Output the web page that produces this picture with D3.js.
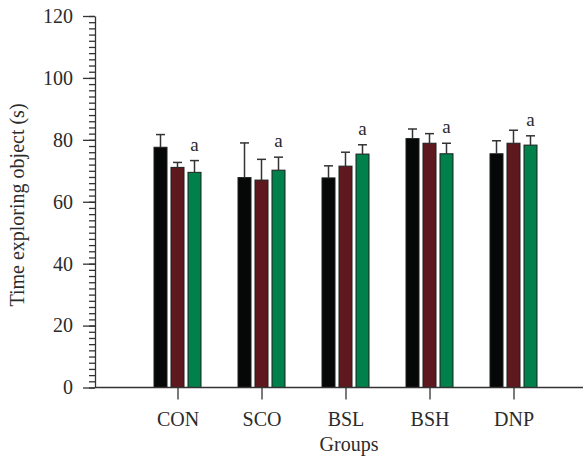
<!DOCTYPE html>
<html>
  <head>
    <meta charset="utf-8">
    <title>Time exploring object</title>
    <script src="https://d3js.org/d3.v7.min.js"></script>
    <style>
      body { margin: 0; background: #fff; }
      svg text { font-family: "Liberation Serif", "DejaVu Serif", serif; fill: #2b2b2b; }
    </style>
  </head>
  <body>
    <svg id="chart"></svg>
    <script>
      // data
      var groups = ["CON", "SCO", "BSL", "BSH", "DNP"];
      var series = ["s1", "s2", "s3"];
      var colors = ["#050807", "#5e191e", "#00814b"];
      var means = [
        [77.6, 71.1, 69.5],
        [67.8, 67.0, 70.2],
        [67.7, 71.5, 75.4],
        [80.4, 78.9, 75.5],
        [75.5, 78.9, 78.3]
      ];
      var errs = [
        [4.1, 1.6, 3.8],
        [11.2, 6.7, 4.2],
        [3.9, 4.5, 3.0],
        [3.1, 3.1, 3.4],
        [4.2, 4.2, 3.0]
      ];
      var sigLabels = ["a", "a", "a", "a", "a"]; // over the third bar
      var yTicks = [0, 20, 40, 60, 80, 100, 120];

      var width = 584, height = 459;
      var svg = d3.select("#chart").attr("width", width).attr("height", height);

      var axisX0 = 95, axisX1 = 583;
      var y = d3.scaleLinear().domain([0, 120]).range([387.5, 16]);
      var x = d3.scalePoint().domain(groups).range([177.5, 513.5]);
      var xSub = d3.scaleBand().domain(series).range([-23.5, 23.5])
                   .paddingInner(0.235).paddingOuter(0);

      // bars
      var rows = [];
      groups.forEach(function(g, i) {
        series.forEach(function(s, j) {
          rows.push({g: g, s: s, j: j, v: means[i][j], e: errs[i][j]});
        });
      });

      var bars = svg.append("g");
      bars.selectAll("rect")
        .data(rows)
        .enter()
        .append("rect")
        .attr("x", function(d) { return x(d.g) + xSub(d.s); })
        .attr("y", function(d) { return y(d.v); })
        .attr("width", xSub.bandwidth())
        .attr("height", function(d) { return y(0) - y(d.v); })
        .attr("fill", function(d) { return colors[d.j]; })
        .attr("stroke", "#1e1e1e")
        .attr("stroke-width", 1);

      // error bars (upper only)
      var eb = svg.append("g").attr("stroke", "#333").attr("stroke-width", 1.5);
      rows.forEach(function(d) {
        var cx = x(d.g) + xSub(d.s) + xSub.bandwidth() / 2;
        eb.append("line")
          .attr("x1", cx).attr("x2", cx)
          .attr("y1", y(d.v)).attr("y2", y(d.v + d.e));
        eb.append("line")
          .attr("x1", cx - 4.5).attr("x2", cx + 4.5)
          .attr("y1", y(d.v + d.e)).attr("y2", y(d.v + d.e));
      });

      // significance letters
      svg.append("g").selectAll("text")
        .data(groups)
        .enter()
        .append("text")
        .attr("x", function(g) { return x(g) + xSub(series[2]) + xSub.bandwidth() / 2; })
        .attr("y", function(g, i) { return y(means[i][2] + errs[i][2]) - 10; })
        .attr("text-anchor", "middle")
        .style("font-size", "19px")
        .text(function(g, i) { return sigLabels[i]; });

      // y axis with minor ticks
      var yAxis = svg.append("g").attr("transform", "translate(" + axisX0 + ",0)");
      yAxis.append("g")
        .call(d3.axisLeft(y).tickValues(d3.range(0, 121, 2)).tickSize(6).tickFormat(""))
        .call(function(g) { g.select(".domain").remove(); });
      yAxis.append("g")
        .call(d3.axisLeft(y).tickValues(yTicks).tickSize(12).tickPadding(10).tickSizeOuter(0))
        .call(function(g) {
          g.selectAll("text").style("font-size", "20px").attr("fill", "#2b2b2b");
        });
      yAxis.selectAll("line, path").attr("stroke", "#333").attr("stroke-width", 1.3);

      // x axis
      var xAxis = svg.append("g").attr("transform", "translate(0," + y(0) + ")");
      xAxis.call(d3.axisBottom(x).tickSize(12).tickPadding(12).tickSizeOuter(0))
        .call(function(g) {
          g.select(".domain").remove();
          g.selectAll("text").style("font-size", "20px").attr("fill", "#2b2b2b");
        });
      xAxis.append("line")
        .attr("x1", axisX0).attr("x2", axisX1)
        .attr("y1", 0).attr("y2", 0);
      xAxis.selectAll("line").attr("stroke", "#333").attr("stroke-width", 1.3);

      // axis titles
      svg.append("text")
        .attr("x", 349)
        .attr("y", 451)
        .attr("text-anchor", "middle")
        .style("font-size", "20px")
        .text("Groups");
      svg.append("text")
        .attr("transform", "translate(24,205) rotate(-90)")
        .attr("text-anchor", "middle")
        .style("font-size", "20px")
        .text("Time exploring object (s)");
    </script>
  </body>
</html>
